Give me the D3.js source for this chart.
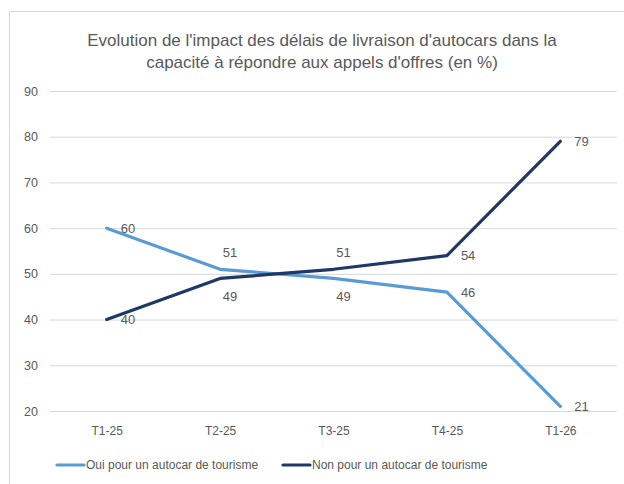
<!DOCTYPE html>
<html>
<head>
<meta charset="utf-8">
<script src="https://cdn.jsdelivr.net/npm/d3@7"></script>
<style>
  body { margin: 0; background: #fff; }
  svg { display: block; }
  text { font-family: "Liberation Sans", Arial, sans-serif; fill: #595959; }
</style>
</head>
<body>
<svg id="chart" width="624" height="484"></svg>
<script>
// chart values
var categories = ["T1-25", "T2-25", "T3-25", "T4-25", "T1-26"];
var ouiValues = [60, 51, 49, 46, 21];
var nonValues = [40, 49, 51, 54, 79];
var seriesNames = ["Oui pour un autocar de tourisme", "Non pour un autocar de tourisme"];
var yTicks = [20, 30, 40, 50, 60, 70, 80, 90];
var titleLines = ["Evolution de l'impact des délais de livraison d'autocars dans la",
                  "capacité à répondre aux appels d'offres (en %)"];

var colors = ["#5b9bd5", "#203864"];
var svg = d3.select("#chart");

// chart area border (cropped on right and bottom)
svg.append("rect")
    .attr("x", 9.5).attr("y", 11.5)
    .attr("width", 640).attr("height", 500)
    .attr("fill", "none").attr("stroke", "#d9d9d9");

var x = d3.scalePoint().domain(categories).range([50, 617]).padding(0.5);
var y = d3.scaleLinear().domain([20, 90]).range([411, 91]);

// title
svg.append("g").selectAll("text").data(titleLines).enter().append("text")
    .attr("x", 322)
    .attr("y", function (d, i) { return 46 + i * 22; })
    .attr("text-anchor", "middle")
    .style("font-size", "17px")
    .text(function (d) { return d; });

// gridlines + y labels
var yAxis = d3.axisLeft(y).tickValues(yTicks).tickSize(-567).tickPadding(12);
var gy = svg.append("g").attr("transform", "translate(50,0)").call(yAxis);
gy.select(".domain").remove();
gy.selectAll(".tick line").attr("stroke", "#d9d9d9");
gy.selectAll(".tick text").style("font-size", "12.5px").attr("fill", "#595959");

// x labels
var xAxis = d3.axisBottom(x).tickSize(0).tickPadding(15);
var gx = svg.append("g").attr("transform", "translate(0,411)").call(xAxis);
gx.select(".domain").remove();
gx.selectAll(".tick text").style("font-size", "12px").attr("fill", "#595959");

var allSeries = [ouiValues, nonValues];
var line = d3.line()
    .x(function (d, i) { return x(categories[i]); })
    .y(function (d) { return y(d); });

allSeries.forEach(function (vals, s) {
    svg.append("path")
        .datum(vals)
        .attr("d", line)
        .attr("fill", "none")
        .attr("stroke", colors[s])
        .attr("stroke-width", 3.2)
        .attr("stroke-linejoin", "round")
        .attr("stroke-linecap", "round");
});

// data labels
allSeries.forEach(function (vals, s) {
    var other = allSeries[1 - s];
    vals.forEach(function (v, i) {
        var px = x(categories[i]), py = y(v);
        var t = svg.append("text").style("font-size", "13px").text(v);
        if (i == 1 || i == 2) {
            t.attr("x", px + 10).attr("text-anchor", "middle")
             .attr("y", v > other[i] ? py - 17 : py + 18)
             .attr("dy", "0.35em");
        } else {
            t.attr("x", px + 14).attr("y", py).attr("dy", "0.35em");
        }
    });
});

// legend
var legendX = [57, 283];
seriesNames.forEach(function (name, s) {
    var g = svg.append("g").attr("transform", "translate(" + legendX[s] + ",465)");
    g.append("line").attr("x1", 0).attr("x2", 27).attr("y1", 0).attr("y2", 0)
        .attr("stroke", colors[s]).attr("stroke-width", 3.2).attr("stroke-linecap", "round");
    g.append("text").attr("x", 29).attr("y", 0).attr("dy", "0.35em")
        .style("font-size", "12px").text(name);
});
</script>
</body>
</html>
